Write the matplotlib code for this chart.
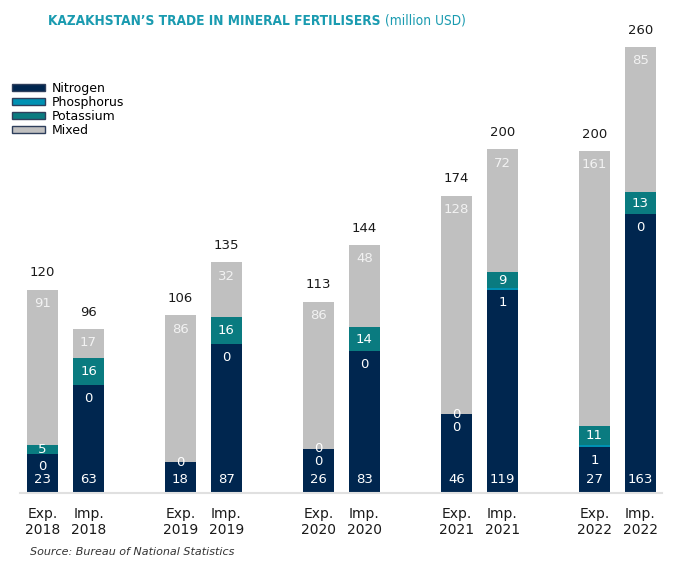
import matplotlib.pyplot as plt
from matplotlib.patches import Patch

categories = ["Exp.\n2018", "Imp.\n2018", "Exp.\n2019", "Imp.\n2019", "Exp.\n2020",
              "Imp.\n2020", "Exp.\n2021", "Imp.\n2021", "Exp.\n2022", "Imp.\n2022"]
positions = [0, 1, 3, 4, 6, 7, 9, 10, 12, 13]

nitrogen = [23, 63, 18, 87, 26, 83, 46, 119, 27, 163]
phosphorus = [0, 0, 0, 0, 0, 0, 0, 1, 1, 0]
potassium = [5, 16, 0, 16, 0, 14, 0, 9, 11, 13]
mixed = [91, 17, 86, 32, 86, 48, 128, 72, 161, 85]
totals = [120, 96, 106, 135, 113, 144, 174, 200, 200, 260]

# phosphorus label is not shown for Exp. 2019
phos_labels = ["0", "0", "", "0", "0", "0", "0", "1", "1", "0"]

navy = "#00264F"
phos_color = "#0091B3"
teal = "#0A7B80"
grey = "#C0C0C0"
title_color = "#1A9BB0"

plt.rcParams["font.family"] = "DejaVu Sans"

fig = plt.figure(figsize=(6.94, 5.65), dpi=100)
ax = fig.add_axes([20 / 694, 72 / 565, 642 / 694, 463 / 565])

width = 0.67
b1 = nitrogen
b2 = [a + b for a, b in zip(b1, phosphorus)]
b3 = [a + b for a, b in zip(b2, potassium)]

ax.bar(positions, nitrogen, width, color=navy, label="Nitrogen")
ax.bar(positions, phosphorus, width, bottom=b1, color=phos_color, label="Phosphorus")
ax.bar(positions, potassium, width, bottom=b2, color=teal, label="Potassium")
ax.bar(positions, mixed, width, bottom=b3, color=grey, label="Mixed")

fs = 9.5
for i, x in enumerate(positions):
    top = b3[i] + mixed[i]
    ax.annotate(str(nitrogen[i]), (x, 0), xytext=(0, 9.5), textcoords="offset points",
                ha="center", va="center", color="white", fontsize=fs)
    if phos_labels[i]:
        ax.annotate(phos_labels[i], (x, b1[i]), xytext=(0, -9.5), textcoords="offset points",
                    ha="center", va="center", color="white", fontsize=fs)
    ax.annotate(str(potassium[i]), (x, b2[i] + potassium[i] / 2), ha="center", va="center",
                color="white", fontsize=fs)
    ax.annotate(str(mixed[i]), (x, top), xytext=(0, -10), textcoords="offset points",
                ha="center", va="center", color="#F2F2F2", fontsize=fs)
    ax.annotate(str(totals[i]), (x, top), xytext=(0, 12), textcoords="offset points",
                ha="center", va="center", color="#1a1a1a", fontsize=fs)

ax.set_xlim(-0.49, 13.47)
ax.set_ylim(0, 270.8)
ax.set_xticks(positions)
ax.set_xticklabels(categories, fontsize=10, color="#1a1a1a", linespacing=1.15)
ax.tick_params(axis="x", length=0, pad=10)
ax.set_yticks([])
for s in ["top", "right", "left"]:
    ax.spines[s].set_visible(False)
ax.spines["bottom"].set_color("#E0E0E0")
ax.spines["bottom"].set_linewidth(1.5)

handles = [Patch(facecolor=c, edgecolor="#2E3F5C", linewidth=1, label=l)
           for c, l in zip([navy, phos_color, teal, grey],
                           ["Nitrogen", "Phosphorus", "Potassium", "Mixed"])]
fig.legend(handles=handles, loc="upper left", bbox_to_anchor=(12 / 694, 1 - 82 / 565),
           frameon=False, fontsize=9, handlelength=2.6, handleheight=0.55,
           labelspacing=0.08, handletextpad=0.6, borderpad=0, borderaxespad=0)

# title: bold part + normal part, centred together around x = 257 px
t1 = fig.text(0, 1 - 21 / 565, "KAZAKHSTAN’S TRADE IN MINERAL FERTILISERS",
              fontsize=9.8, fontweight="bold", fontstretch="condensed", color=title_color,
              va="center", ha="left", family="DejaVu Sans")
t2 = fig.text(0, 1 - 21 / 565, "(million USD)", fontsize=9.8,
              fontstretch="condensed", color=title_color, va="center", ha="left",
              family="DejaVu Sans")
fig.canvas.draw()
w1 = t1.get_window_extent().width
w2 = t2.get_window_extent().width
start = 257 - (w1 + 4 + w2) / 2
t1.set_x(start / 694)
t2.set_x((start + w1 + 4) / 694)

fig.text(30 / 694, 1 - 552 / 565, "Source: Bureau of National Statistics", fontsize=8,
         style="italic", color="#333333", va="center", ha="left")

fig.savefig("out.png", dpi=100)
